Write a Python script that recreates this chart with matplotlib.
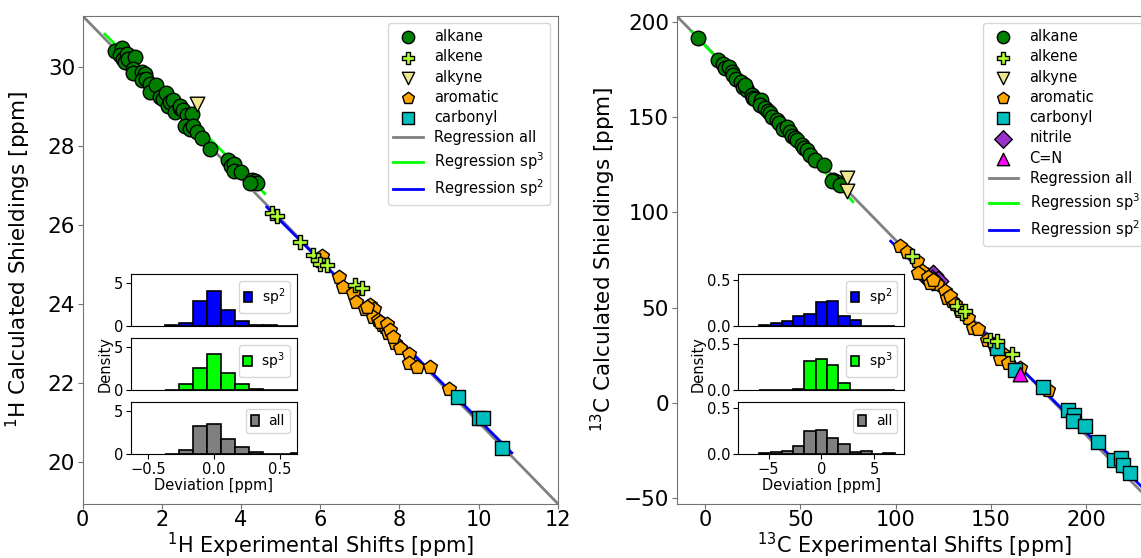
import numpy as np
import matplotlib
matplotlib.use('Agg')
from matplotlib import pyplot as plt

# ---- 1H shifts (experimental, calculated) per category
h_alkane_x = [0.82, 0.98, 0.93, 1.03, 1.11, 1.07, 1.15, 1.32, 1.28, 1.28, 1.49, 1.57, 1.49, 1.60,
              1.70, 1.70, 1.85, 1.95, 2.04, 2.10, 2.16, 2.20, 2.29, 2.33, 2.45, 2.46, 2.54, 2.63,
              2.75, 2.58, 2.71, 2.79, 2.88, 3.01, 3.22, 3.68, 3.75, 3.81, 3.81, 4.00, 4.27, 4.35,
              4.40, 4.23]
h_alkane_y = [30.41, 30.47, 30.30, 30.21, 30.34, 30.13, 30.20, 30.24, 29.96, 29.85, 29.87, 29.82,
              29.68, 29.70, 29.58, 29.37, 29.54, 29.24, 29.20, 29.34, 29.01, 29.10, 29.16, 28.86,
              28.95, 29.01, 28.90, 28.78, 28.82, 28.50, 28.44, 28.50, 28.35, 28.21, 27.93, 27.64,
              27.50, 27.55, 27.37, 27.34, 27.13, 27.10, 27.06, 27.05]
h_alkene_x = [4.78, 4.90, 5.49, 5.83, 5.95, 6.00, 6.16, 6.88, 7.05]
h_alkene_y = [26.29, 26.22, 25.57, 25.23, 25.11, 25.02, 24.98, 24.47, 24.39]
h_alkyne_x = [2.88]
h_alkyne_y = [29.07]
h_arom_x = [6.04, 6.48, 6.57, 6.84, 6.91, 7.13, 7.26, 7.36, 7.33, 7.47, 7.55, 7.64, 7.72, 7.89,
            8.02, 8.25, 8.25, 8.44, 8.77, 9.25, 7.18, 7.51, 7.68, 7.76, 7.85]
h_arom_y = [25.21, 24.68, 24.43, 24.28, 24.05, 23.88, 23.97, 23.88, 23.67, 23.59, 23.46, 23.42,
            23.25, 23.01, 22.87, 22.74, 22.51, 22.39, 22.39, 21.83, 23.92, 23.54, 23.50, 23.33,
            23.16]
h_carb_x = [9.49, 10.02, 10.12, 10.59]
h_carb_y = [21.65, 21.11, 21.10, 20.35]

# regression (slope, intercept, x from, x to)
h_reg_all = (-1.029, 31.29, 0.0, 12.0)
h_reg_sp3 = (-1.000, 31.39, 0.56, 4.6)
h_reg_sp2 = (-1.006, 31.13, 4.65, 10.84)

# ---- 13C shifts
c_alkane_x = [-3.5, 7.0, 9.3, 10.5, 12.8, 14.0, 14.9, 16.0, 18.7, 20.1, 21.9, 21.0, 24.5, 25.0,
              26.2, 29.2, 28.9, 31.5, 33.0, 34.1, 35.0, 37.6, 39.0, 41.1, 42.9, 44.6, 45.5, 47.0,
              48.1, 50.7, 52.0, 53.4, 55.1, 57.7, 62.6, 67.3, 69.1, 66.5, 70.8]
c_alkane_y = [191.6, 180.1, 177.7, 175.5, 176.3, 173.7, 172.0, 170.0, 168.5, 165.9, 164.2, 166.8,
              161.5, 160.0, 159.7, 158.9, 156.3, 154.5, 153.0, 151.9, 150.1, 148.4, 147.0, 144.0,
              144.9, 142.3, 139.9, 139.0, 137.8, 135.2, 134.0, 132.6, 129.9, 127.7, 125.0, 117.2,
              115.7, 116.3, 114.5]
c_alkene_x = [108.4, 132.0, 134.7, 136.4, 149.5, 153.0, 160.9]
c_alkene_y = [77.0, 50.8, 47.3, 48.2, 33.3, 32.4, 26.0]
c_alkyne_x = [74.7, 74.7]
c_alkyne_y = [118.1, 111.1]
c_arom_x = [102.3, 106.1, 111.1, 113.7, 111.9, 117.2, 121.6, 125.9, 126.8, 129.4, 133.8, 138.1,
            140.8, 143.4, 147.8, 155.7, 154.8, 159.1, 165.3, 180.1, 118.0, 128.5, 131.0, 151.5,
            119.8]
c_arom_y = [82.2, 79.1, 74.4, 69.1, 68.3, 66.2, 62.2, 58.6, 55.2, 53.4, 48.2, 44.7, 39.5, 38.9,
            33.3, 26.3, 22.9, 21.1, 18.5, 6.8, 63.0, 56.0, 52.0, 30.5, 64.8]
c_carb_x = [153.0, 162.6, 177.5, 190.6, 193.6, 193.2, 199.4, 205.9, 214.6, 218.1, 219.1, 223.0]
c_carb_y = [29.0, 17.6, 8.5, -3.4, -6.0, -9.5, -12.1, -20.5, -29.9, -28.7, -32.2, -36.9]
c_nitr_x = [117.2, 119.8, 122.4, 118.9]
c_nitr_y = [65.7, 67.4, 63.9, 64.8]
c_cn_x = [165.3]
c_cn_y = [15.5]

c_reg_all = (-1.0234, 187.8, -14.85, 235.0)
c_reg_sp3 = (-1.055, 187.5, -7.0, 77.6)
c_reg_sp2 = (-0.978, 180.2, 97.4, 240.0)

# ---- deviation histograms (bin edges, densities)
h_edges = [-0.373, -0.267, -0.16, -0.053, 0.053, 0.16, 0.267, 0.373, 0.48, 0.587, 0.693]
h_dens_sp2 = [0.08, 0.35, 2.93, 4.10, 1.88, 0.59, 0.08, 0.08, 0.0, 0.0]
h_dens_sp3 = [0.0, 0.66, 2.54, 4.18, 1.99, 0.66, 0.15, 0.0, 0.0, 0.0]
h_dens_all = [0.05, 0.47, 3.28, 3.48, 1.76, 0.78, 0.20, 0.0, 0.0, 0.06]

c_edges = [-5.867, -4.8, -3.733, -2.667, -1.6, -0.533, 0.533, 1.6, 2.667, 3.733, 4.8, 5.867, 6.933]
c_dens_sp2 = [0.015, 0.03, 0.058, 0.109, 0.127, 0.257, 0.268, 0.112, 0.065, 0.0, 0.0, 0.0]
c_dens_sp3 = [0.0, 0.0, 0.0, 0.01, 0.314, 0.34, 0.268, 0.071, 0.0, 0.0, 0.0, 0.0]
c_dens_all = [0.008, 0.025, 0.036, 0.086, 0.248, 0.263, 0.173, 0.104, 0.022, 0.036, 0.0, 0.008]

spine_col = '0.45'
ms = 110


def main_panel(ax, groups, regs, xlim, ylim, xticks, yticks, nucleus, ylab_x):
    for x, y, lab, mk, col, z in groups:
        ax.scatter(x, y, s=ms, marker=mk, c=col, edgecolors='black', linewidths=1,
                   label=lab, zorder=z)
    for (m, b, x0, x1), col, lab in zip(regs, ['grey', 'lime', 'blue'],
                                       ['Regression all', 'Regression sp$^3$', 'Regression sp$^2$']):
        xx = np.array([x0, x1])
        ax.plot(xx, m * xx + b, color=col, lw=2, label=lab, zorder=1)
    ax.set_xlim(xlim)
    ax.set_ylim(ylim)
    ax.set_xticks(xticks)
    ax.set_yticks(yticks)
    ax.tick_params(labelsize=15.5, color=spine_col, pad=2)
    ax.tick_params(axis='x', labelsize=15, pad=1)
    for sp in ax.spines.values():
        sp.set_color(spine_col)
    ax.set_xlabel('$^{%s}$%s Experimental Shifts [ppm]' % nucleus, fontsize=15)
    ax.set_ylabel('$^{%s}$%s Calculated Shieldings [ppm]' % nucleus, fontsize=15.5)
    ax.xaxis.set_label_coords(0.5, -0.056)
    ax.yaxis.set_label_coords(ylab_x, 0.5)
    ax.legend(loc='upper right', fontsize=10.5, labelspacing=0.36, markerscale=0.85)


def insets(fig, left, edges, dens_list, xlim, ylim, xticks, yticks):
    bottoms = [0.4158, 0.301, 0.1864]
    cols = ['blue', 'lime', 'grey']
    labs = ['sp$^2$', 'sp$^3$', 'all']
    for i, (bt, d, col, lab) in enumerate(zip(bottoms, dens_list, cols, labs)):
        ia = fig.add_axes([left, bt, 0.1455, 0.0927])
        ia.hist(edges[:-1], bins=edges, weights=d, color=col, edgecolor='black',
                linewidth=1.2, label=lab)
        ia.set_xlim(xlim)
        ia.set_ylim(ylim)
        ia.set_xticks(xticks)
        ia.set_yticks(yticks)
        ia.tick_params(labelsize=10.5, pad=2)
        if i < 2:
            ia.tick_params(bottom=False, labelbottom=False)
        else:
            ia.set_xlabel('Deviation [ppm]', fontsize=10.5, labelpad=1)
        if i == 1:
            ia.set_ylabel('Density', fontsize=10.5, labelpad=1)
        ia.legend(loc='upper right', fontsize=10, handlelength=0.6, handleheight=0.8,
                  handletextpad=0.7, borderpad=0.35)


fig = plt.figure(figsize=(11.41, 5.58), dpi=100)

ax1 = fig.add_axes([0.0725, 0.0975, 0.4163, 0.8738])
main_panel(ax1,
           [(h_alkane_x, h_alkane_y, 'alkane', 'o', 'green', 2),
            (h_alkene_x, h_alkene_y, 'alkene', 'P', 'greenyellow', 3),
            (h_alkyne_x, h_alkyne_y, 'alkyne', 'v', 'khaki', 3),
            (h_arom_x, h_arom_y, 'aromatic', 'p', 'orange', 2.2),
            (h_carb_x, h_carb_y, 'carbonyl', 's', 'c', 2.3)],
           [h_reg_all, h_reg_sp3, h_reg_sp2], (0, 12), (18.94, 31.29),
           np.arange(0, 13, 2), np.arange(20, 31, 2), ('1', 'H'), -0.105)

ax2 = fig.add_axes([0.5931, 0.0975, 0.4174, 0.8738])
main_panel(ax2,
           [(c_alkane_x, c_alkane_y, 'alkane', 'o', 'green', 2),
            (c_alkene_x, c_alkene_y, 'alkene', 'P', 'greenyellow', 3),
            (c_alkyne_x, c_alkyne_y, 'alkyne', 'v', 'khaki', 3),
            (c_arom_x, c_arom_y, 'aromatic', 'p', 'orange', 2.2),
            (c_carb_x, c_carb_y, 'carbonyl', 's', 'c', 2.3),
            (c_nitr_x, c_nitr_y, 'nitrile', 'D', 'darkorchid', 2.1),
            (c_cn_x, c_cn_y, 'C=N', '^', 'magenta', 2.4)],
           [c_reg_all, c_reg_sp3, c_reg_sp2], (-14.85, 235.0), (-52.7, 203.0),
           np.arange(0, 201, 50), np.arange(-50, 201, 50), ('13', 'C'), -0.123)

insets(fig, 0.1146, h_edges, [h_dens_sp2, h_dens_sp3, h_dens_all],
       (-0.63, 0.63), (0, 6.05), [-0.5, 0.0, 0.5], [0, 5])
insets(fig, 0.6471, c_edges, [c_dens_sp2, c_dens_sp3, c_dens_all],
       (-7.86, 7.86), (0, 0.56), [-5, 0, 5], [0.0, 0.5])

fig.savefig('out.png', dpi=100)
